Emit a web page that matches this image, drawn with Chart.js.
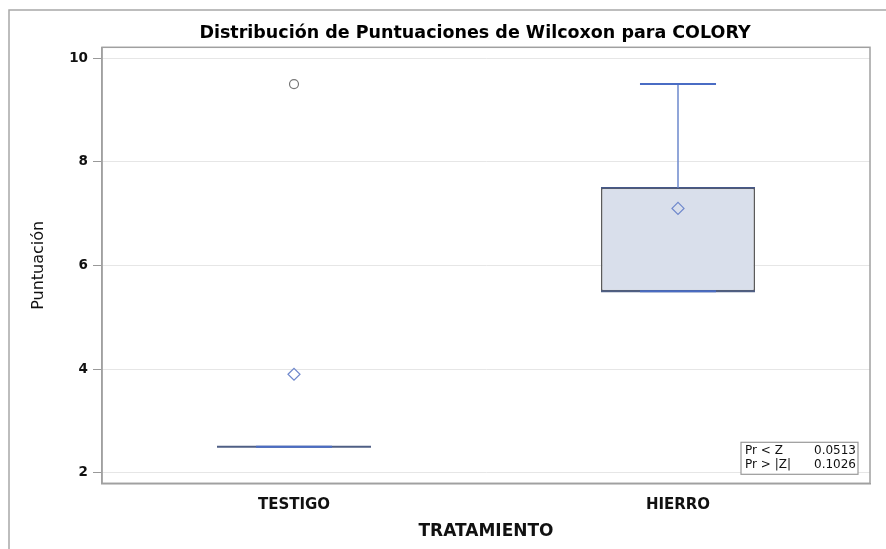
<!DOCTYPE html>
<html>
<head>
<meta charset="utf-8">
<script src="https://cdn.jsdelivr.net/npm/chart.js@4/dist/chart.umd.min.js"></script>
<style>
  html, body { margin: 0; padding: 0; background: #fff; }
  #wrap { width: 886px; height: 549px; position: relative; }
</style>
</head>
<body>
<div id="wrap"><canvas id="c" width="886" height="549"></canvas></div>
<script>
// ---- data ----
const categories = ['TESTIGO', 'HIERRO'];
const q1Values = [2.5, 5.5];
const q3Values = [2.5, 7.5];
const medianValues = [2.5, 5.5];
const whiskerLow = [2.5, 5.5];
const whiskerHigh = [2.5, 9.5];
const meanValues = [3.9, 7.1];
const outlierValues = [9.5, null];
const yTickValues = [2, 4, 6, 8, 10];
const statLabels = ['Pr < Z', 'Pr > |Z|'];
const statValues = ['0.0513', '0.1026'];

const titleText = 'Distribución de Puntuaciones de Wilcoxon para COLORY';
const xTitle = 'TRATAMIENTO';
const yTitle = 'Puntuación';

const FONT = "'DejaVu Sans', 'Liberation Sans', sans-serif";
const BOX_FRAC = 0.401;
const CAP_FRAC = 0.198;

const boxPlugin = {
  id: 'boxPlugin',
  beforeDraw(chart) {
    const ctx = chart.ctx;
    ctx.save();
    ctx.fillStyle = '#ffffff';
    ctx.fillRect(0, 0, chart.width, chart.height);
    ctx.strokeStyle = '#a8a8a8';
    ctx.lineWidth = 1.5;
    ctx.beginPath();
    ctx.moveTo(9, chart.height);
    ctx.lineTo(9, 10);
    ctx.lineTo(chart.width, 10);
    ctx.stroke();
    ctx.restore();
  },
  afterDatasetsDraw(chart) {
    const ctx = chart.ctx;
    const xs = chart.scales.x, ys = chart.scales.y;
    const catW = xs.getPixelForValue(1) - xs.getPixelForValue(0);
    ctx.save();
    categories.forEach((c, i) => {
      const x = xs.getPixelForValue(i);
      const bh = catW * BOX_FRAC / 2;
      const ch = catW * CAP_FRAC / 2;
      const yMed = ys.getPixelForValue(medianValues[i]);
      const yLo = ys.getPixelForValue(whiskerLow[i]);
      const yHi = ys.getPixelForValue(whiskerHigh[i]);
      const yQ1 = ys.getPixelForValue(q1Values[i]);
      const yQ3 = ys.getPixelForValue(q3Values[i]);
      // top edge of box slightly blue-ish
      if (yQ3 < yQ1) {
        ctx.strokeStyle = '#46598a';
        ctx.lineWidth = 1.5;
        ctx.beginPath();
        ctx.moveTo(x - bh, yQ3); ctx.lineTo(x + bh, yQ3);
        ctx.stroke();
      }
      // whiskers
      ctx.strokeStyle = '#6d88cc';
      ctx.lineWidth = 1.5;
      ctx.beginPath();
      if (yHi < yQ3) { ctx.moveTo(x, yQ3); ctx.lineTo(x, yHi); }
      if (yLo > yQ1) { ctx.moveTo(x, yQ1); ctx.lineTo(x, yLo); }
      ctx.stroke();
      // median line (full box width)
      ctx.strokeStyle = '#4f5f85';
      ctx.lineWidth = 2;
      ctx.beginPath();
      ctx.moveTo(x - bh, yMed);
      ctx.lineTo(x + bh, yMed);
      ctx.stroke();
      // caps
      ctx.strokeStyle = '#4a6cc4';
      ctx.lineWidth = 2;
      ctx.beginPath();
      ctx.moveTo(x - ch, yHi); ctx.lineTo(x + ch, yHi);
      ctx.moveTo(x - ch, yLo); ctx.lineTo(x + ch, yLo);
      ctx.stroke();
    });
    ctx.restore();
  },
  afterDraw(chart) {
    const ctx = chart.ctx;
    const a = chart.chartArea;
    ctx.save();
    // title
    ctx.fillStyle = '#000';
    ctx.font = "bold 17.5px " + FONT;
    ctx.textAlign = 'center';
    ctx.textBaseline = 'alphabetic';
    ctx.fillText(titleText, 475, 38);
    // plot frame (top & right)
    ctx.strokeStyle = '#a0a0a0';
    ctx.lineWidth = 1.5;
    ctx.strokeRect(a.left, a.top, a.right - a.left, a.bottom - a.top);
    // inset stats table
    const w = 117, h = 32;
    const bx = a.right - 129, by = a.bottom - 41;
    ctx.fillStyle = '#fff';
    ctx.fillRect(bx, by, w, h);
    ctx.strokeStyle = '#9a9a9a';
    ctx.lineWidth = 1.2;
    ctx.strokeRect(bx, by, w, h);
    ctx.fillStyle = '#111';
    ctx.font = "12px " + FONT;
    ctx.textBaseline = 'middle';
    statLabels.forEach((l, i) => {
      const ty = by + 9 + i * 13.5;
      ctx.textAlign = 'left';
      ctx.fillText(l, bx + 4, ty);
      ctx.textAlign = 'right';
      ctx.fillText(statValues[i], bx + w - 2, ty);
    });
    ctx.restore();
  }
};

new Chart(document.getElementById('c'), {
  data: {
    labels: categories,
    datasets: [
      {
        type: 'bar',
        label: 'box',
        data: q1Values.map((v, i) => [v, q3Values[i]]),
        backgroundColor: '#d9dfeb',
        borderColor: '#5a5a5a',
        borderWidth: 1.5,
        borderSkipped: false,
        barPercentage: BOX_FRAC,
        categoryPercentage: 1,
        order: 3
      },
      {
        type: 'line',
        label: 'mean',
        data: meanValues,
        showLine: false,
        pointStyle: 'rectRot',
        pointRadius: 6,
        pointBorderColor: '#6f88cc',
        pointBackgroundColor: 'rgba(0,0,0,0)',
        pointBorderWidth: 1.2,
        order: 1
      },
      {
        type: 'line',
        label: 'outlier',
        data: outlierValues,
        showLine: false,
        pointStyle: 'circle',
        pointRadius: 4.5,
        pointBorderColor: '#777777',
        pointBackgroundColor: 'rgba(0,0,0,0)',
        pointBorderWidth: 1.2,
        order: 0
      }
    ]
  },
  options: {
    responsive: false,
    animation: false,
    events: [],
    layout: { padding: { left: 0, right: 16, top: 47.3, bottom: 0 } },
    plugins: {
      legend: { display: false },
      tooltip: { enabled: false },
      title: { display: false }
    },
    scales: {
      x: {
        type: 'category',
        offset: true,
        grid: { display: false, drawTicks: true, tickLength: 7, tickColor: '#999' },
        border: { display: true, color: '#a0a0a0', width: 1.5 },
        ticks: { color: '#111', font: { family: FONT, size: 15, weight: 'bold' }, padding: 6 },
        title: { display: true, text: xTitle, color: '#111', font: { family: FONT, size: 17, weight: 'bold' }, padding: { top: 4, bottom: 7 } },
        afterFit(s) { s.height = 549 - 483.3; }
      },
      y: {
        type: 'linear',
        min: 1.795,
        max: 10.21,
        afterBuildTicks(s) { s.ticks = yTickValues.map(v => ({ value: v })); },
        grid: { color: '#e6e6e6', lineWidth: 1, tickLength: 9, tickColor: '#999', drawTicks: true },
        border: { display: true, color: '#a0a0a0', width: 1.5 },
        ticks: { color: '#111', font: { family: FONT, size: 13.5, weight: 'bold' }, padding: 5, callback: v => String(v) },
        title: { display: true, text: yTitle, color: '#111', font: { family: FONT, size: 16 }, padding: { top: 29, bottom: 0 } },
        afterFit(s) { s.width = 102; }
      }
    }
  },
  plugins: [boxPlugin]
});
</script>
</body>
</html>
